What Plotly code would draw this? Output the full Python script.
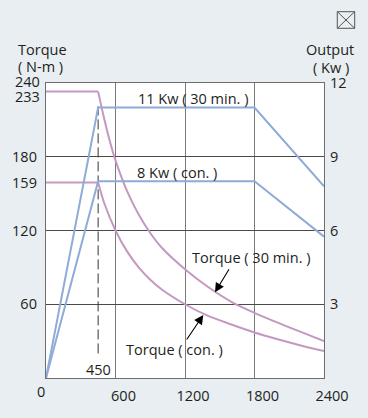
import plotly.graph_objects as go

# ---- data ----
rpm_torque_30 = [0, 450, 500, 550, 600, 700, 800, 900, 1000, 1200, 1400, 1600, 1800, 2000, 2200, 2400]
torque_30 = [233, 233, 212, 193, 177, 152, 133, 118, 106, 88.5, 74, 62, 53, 45, 37.5, 30]
rpm_torque_con = [0, 450, 500, 600, 700, 800, 900, 1000, 1200, 1400, 1600, 1800, 2000, 2200, 2400]
torque_con = [159, 159, 143, 120, 103, 90, 80, 72, 60, 50.5, 43.5, 37, 31.5, 26.5, 22]
rpm_power = [0, 450, 1800, 2400]
power_30 = [0, 11, 11, 7.8]
power_con = [0, 8, 8, 5.75]
base_rpm = 450
base_line_torque = [20, 221]

x_ticks = [600, 1200, 1800, 2400]
y_left_ticks = [60, 120, 159, 180]
y_right_ticks = [3, 6, 9, 12]

TXT = "#231f20"
PINK = "#c498c0"
BLUE = "#8fabd6"
BG = "#e8eef2"
FONT = "Open Sans"
FS = 14.5

fig = go.Figure()
fig.add_trace(go.Scatter(x=[base_rpm, base_rpm], y=base_line_torque, mode="lines",
                         line=dict(color="#333333", width=1, dash="10px,4px"), hoverinfo="skip"))
for xs, ys in [(rpm_torque_30, torque_30), (rpm_torque_con, torque_con)]:
    # flat part (straight) and decaying part (smoothed)
    fig.add_trace(go.Scatter(x=xs[:2], y=ys[:2], mode="lines", line=dict(color=PINK, width=2)))
    fig.add_trace(go.Scatter(x=xs[1:], y=ys[1:], mode="lines",
                             line=dict(color=PINK, width=2, shape="spline", smoothing=0.8)))
fig.add_trace(go.Scatter(x=rpm_power, y=power_30, mode="lines", yaxis="y2", line=dict(color=BLUE, width=2)))
fig.add_trace(go.Scatter(x=rpm_power, y=power_con, mode="lines", yaxis="y2", line=dict(color=BLUE, width=2)))

ann = []
def T(text, x, y, xref="x", yref="y", xanchor="center", yanchor="middle", xshift=0, yshift=0):
    ann.append(dict(text=text, x=x, y=y, xref=xref, yref=yref, xanchor=xanchor, yanchor=yanchor,
                    xshift=xshift, yshift=yshift, showarrow=False, borderpad=0,
                    font=dict(family=FONT, size=FS, color=TXT)))

T("240", 0, 240, xref="paper", xanchor="right", xshift=-5, yshift=2)
T("233", 0, 233, xref="paper", xanchor="right", xshift=-5, yshift=-4.5)
T("0", 0, 0, yref="paper", yanchor="top", xshift=-5, yshift=-3)
T("450", base_rpm, 7)
T("11 Kw ( 30 min. )", 1266, 227.6)
T("8 Kw ( con. )", 1128, 167.3)
T("Torque ( 30 min. )", 1776, 97.9)
T("Torque ( con. )", 1105, 23.3)
T("Torque", -0.1043, 1.114, xref="paper", yref="paper", xanchor="left")
T("( N-m )", -0.1043, 1.055, xref="paper", yref="paper", xanchor="left")
T("Output", 1.0205, 1.112, xref="paper", yref="paper")
T("( Kw )", 1.024, 1.054, xref="paper", yref="paper")

for hx, hy, tx, ty in [(1459, 69.7, 1588, 89.7), (1358, 51.3, 1206, 30.1)]:
    ann.append(dict(text="", x=hx, y=hy, ax=tx, ay=ty, xref="x", yref="y", axref="x", ayref="y",
                    showarrow=True, arrowhead=2, arrowsize=1.7, arrowwidth=1.1, arrowcolor="#000", standoff=0))

shapes = [
    dict(type="rect", xref="paper", yref="paper", x0=1.0478, x1=1.1104, y0=1.1854, y1=1.2417,
         line=dict(color="#555555", width=1)),
    dict(type="line", xref="paper", yref="paper", x0=1.0478, x1=1.1104, y0=1.1854, y1=1.2417,
         line=dict(color="#555555", width=1)),
    dict(type="line", xref="paper", yref="paper", x0=1.0478, x1=1.1104, y0=1.2417, y1=1.1854,
         line=dict(color="#555555", width=1)),
]

tickfont = dict(family=FONT, size=FS, color=TXT)
fig.update_layout(
    width=368, height=418,
    margin=dict(l=46, r=44, t=83, b=40),
    paper_bgcolor=BG, plot_bgcolor="white",
    showlegend=False, hovermode=False,
    annotations=ann, shapes=shapes,
    xaxis=dict(range=[0, 2400], tickvals=x_ticks, ticktext=[str(v) for v in x_ticks],
               showgrid=True, gridcolor="#7a7a7a", gridwidth=1.3, zeroline=False,
               showline=True, linecolor="#6d6d6d", linewidth=1.3, mirror=True,
               ticks="", tickfont=tickfont, ticklabelstandoff=4, ticklabelshift=8),
    yaxis=dict(range=[0, 240], tickvals=y_left_ticks, ticktext=[str(v) for v in y_left_ticks],
               showgrid=False, zeroline=False, showline=True, linecolor="#6d6d6d", linewidth=1.3,
               mirror=True, ticks="", tickfont=tickfont, ticklabelstandoff=5),
    yaxis2=dict(range=[0, 12], overlaying="y", side="right", tickvals=y_right_ticks,
                ticktext=[str(v) for v in y_right_ticks], showgrid=True, gridcolor="#4a4a4a",
                gridwidth=1, zeroline=False, ticks="", tickfont=tickfont, ticklabelstandoff=5),
)

fig.write_html("out.html", config={"displayModeBar": False},
               post_script="document.body.style.margin='0';document.body.style.overflow='hidden';")
